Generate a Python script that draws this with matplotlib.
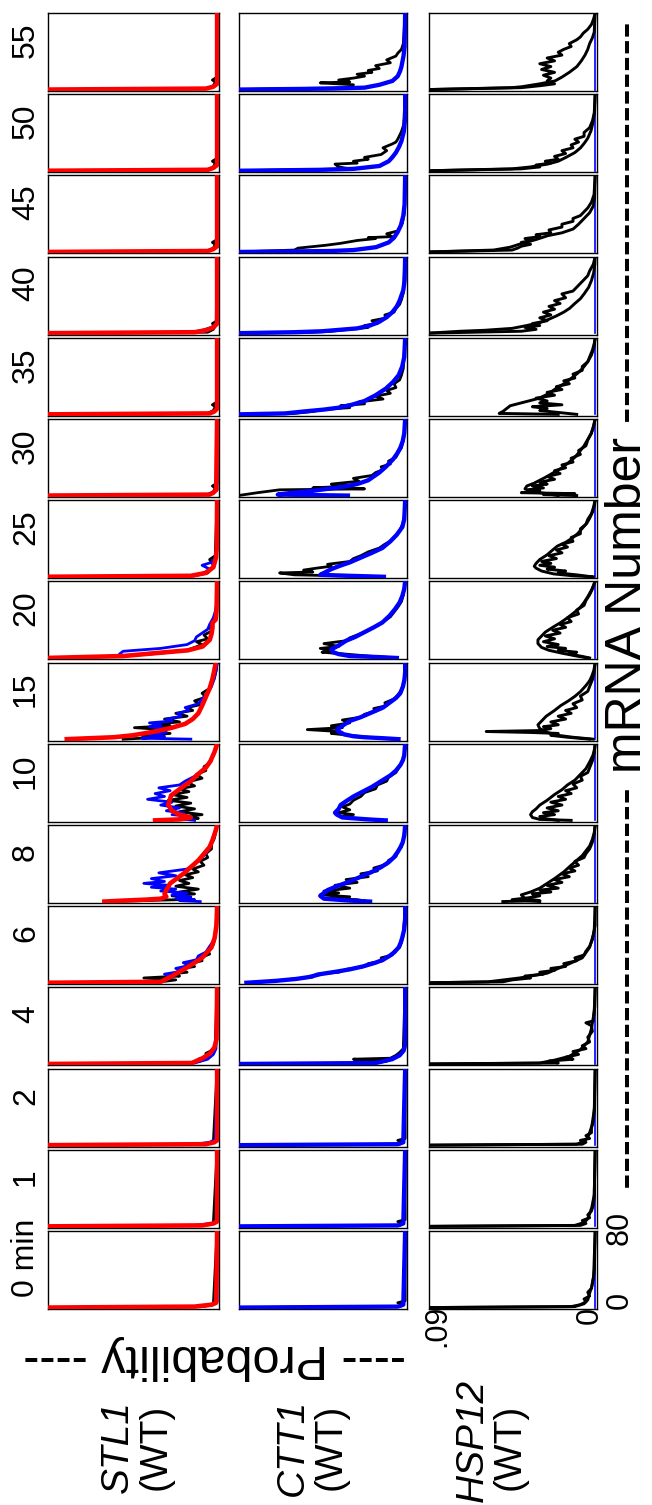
import matplotlib
matplotlib.use('Agg')
import matplotlib.pyplot as plt
import numpy as np

plt.rcParams['font.family'] = ['Liberation Sans', 'DejaVu Sans']

times = ['0 min', '1', '2', '4', '6', '8', '10', '15', '20', '25', '30', '35', '40', '45', '50', '55']
genes = ['STL1', 'CTT1', 'HSP12']

# every curve is a list of (mRNA number, probability), one list per time point
# (probabilities above .09 run off the left of the panel)

stl1_red = [
    [(0, .9), (1, .012), (3, .003), (5, .0005), (80, 0)],
    [(0, .9), (1, .008), (3, .002), (5, 0), (80, 0)],
    [(0, .9), (1, .006), (3, .0015), (5, 0), (80, 0)],
    [(0, .6), (1, .0135), (6, .0077), (11, .0039), (17, .0015), (26, .0003), (80, 0)],
    [(0, .5), (1, .03), (7, .024), (16, .016), (26, .008), (37, .003), (47, .0013), (61, .0003), (80, 0)],
    [(0, .06), (1, .05), (2, .038), (3, .03), (5, .027), (8, .028), (12, .027), (19, .025), (29, .018),
     (36, .014), (43, .01), (50, .007), (57, .004), (64, .0025), (71, .0013), (76, .0005), (80, 0)],
    [(0, .033), (1, .02), (3, .014), (6, .02), (10, .024), (16, .026), (26, .0245), (34, .019), (41, .014),
     (48, .0103), (55, .006), (62, .0035), (72, .0013), (78, .0003), (80, 0)],
    [(0, .08), (2, .055), (4, .045), (8, .033), (12, .024), (16, .017), (21, .013), (27, .010), (35, .008),
     (44, .006), (53, .004), (62, .0026), (70, .0017), (77, .001), (80, .0007)],
    [(0, .15), (2, .05), (5, .033), (8, .0155), (12, .0077), (19, .0039), (25, .003), (31, .0025),
     (37, .0024), (40, .0008), (50, .0003), (80, 0)],
    [(0, .5), (1, .014), (4, .006), (10, .002), (20, .0006), (30, .0002), (80, 0)],
    [(0, .9), (1, .004), (3, .002), (6, .0005), (80, 0)],
    [(0, .9), (1, .004), (3, .0015), (6, 0), (80, 0)],
    [(0, .9), (1, .012), (3, .006), (6, .002), (10, 0), (80, 0)],
    [(0, .9), (1, .005), (3, .002), (6, 0), (80, 0)],
    [(0, .9), (1, .005), (3, .002), (6, 0), (80, 0)],
    [(0, .9), (1, .006), (3, .002), (6, 0), (80, 0)],
]

stl1_blue = [
    [(0, .9), (1, .01), (3, .002), (6, 0), (80, 0)],
    [(0, .9), (1, .012), (3, .003), (6, 0), (80, 0)],
    [(0, .9), (1, .012), (3, .004), (6, .001), (80, 0)],
    [(0, .6), (1, .012), (5, .005), (10, .002), (16, .0006), (80, 0)],
    [(0, .5), (1, .03), (3, .028), (6, .024), (9, .028), (12, .019), (15, .022), (18, .015), (21, .018),
     (24, .011), (28, .010), (32, .006), (38, .004), (45, .0015), (55, .0005), (80, 0)],
    [(0, .009), (1, .02), (2, .012), (3, .022), (5, .014), (7, .024), (9, .016), (11, .03), (13, .022),
     (15, .035), (17, .026), (19, .039), (21, .028), (24, .035), (27, .022), (30, .031), (34, .016),
     (38, .013), (43, .01), (50, .006), (57, .004), (65, .002), (72, .001), (80, 0)],
    [(0, .012), (2, .02), (4, .014), (6, .024), (8, .018), (10, .027), (13, .02), (16, .03), (19, .024),
     (22, .037), (25, .028), (28, .033), (31, .025), (34, .031), (37, .02), (41, .017), (46, .012),
     (52, .008), (58, .005), (65, .003), (72, .0012), (80, 0)],
    [(0, .014), (1, .04), (3, .028), (5, .036), (7, .027), (9, .033), (11, .026), (13, .036), (15, .03),
     (17, .036), (19, .024), (21, .027), (24, .019), (27, .021), (30, .015), (33, .017), (37, .01),
     (42, .008), (48, .005), (55, .003), (63, .0015), (72, .0005), (80, 0)],
    [(0, .15), (2, .05), (4, .052), (7, .05), (10, .03), (14, .016), (18, .012), (22, .011), (26, .008),
     (30, .005), (35, .004), (42, .002), (50, .0008), (60, 0), (80, 0)],
    [(0, .5), (1, .014), (4, .007), (8, .004), (12, .008), (15, .003), (20, .001), (30, 0), (80, 0)],
    [(0, .9), (1, .005), (3, .002), (6, 0), (80, 0)],
    [(0, .9), (1, .005), (3, .002), (6, 0), (80, 0)],
    [(0, .9), (1, .013), (3, .008), (6, .003), (10, .0005), (80, 0)],
    [(0, .9), (1, .006), (3, .002), (6, 0), (80, 0)],
    [(0, .9), (1, .006), (3, .002), (6, 0), (80, 0)],
    [(0, .9), (1, .006), (3, .002), (6, 0), (80, 0)],
]

stl1_black = [
    [(0, .9), (1, .008), (3, .002), (80, 0)],
    [(0, .9), (1, .008), (3, .002), (80, 0)],
    [(0, .9), (1, .008), (3, .002), (80, 0)],
    [(0, .6), (1, .014), (3, .009), (5, .01), (8, .005), (11, .006), (15, .002), (20, .001), (80, 0)],
    [(0, .5), (1, .03), (3, .022), (5, .039), (7, .02), (9, .025), (11, .016), (14, .021), (17, .012),
     (20, .015), (23, .008), (26, .009), (30, .004), (34, .005), (40, .002), (48, .001), (80, 0)],
    [(0, .06), (2, .02), (4, .014), (6, .024), (8, .012), (10, .02), (13, .01), (16, .022), (19, .015),
     (22, .02), (25, .013), (28, .017), (31, .01), (34, .013), (38, .007), (42, .009), (46, .005),
     (50, .006), (55, .003), (60, .003), (66, .0015), (72, .0008), (80, 0)],
    [(0, .03), (2, .01), (4, .016), (6, .008), (9, .02), (12, .012), (15, .022), (18, .014), (21, .026),
     (24, .016), (27, .024), (30, .015), (33, .02), (36, .012), (40, .016), (44, .008), (48, .011),
     (52, .006), (56, .007), (60, .004), (65, .003), (70, .0015), (75, .0005), (80, 0)],
    [(0, .05), (2, .03), (4, .04), (6, .025), (8, .035), (10, .028), (12, .044), (14, .025), (16, .032),
     (18, .02), (21, .028), (24, .016), (27, .022), (30, .013), (33, .016), (36, .009), (40, .012),
     (44, .006), (48, .008), (53, .004), (58, .003), (64, .0015), (72, .0005), (80, 0)],
    [(0, .15), (2, .05), (5, .03), (8, .016), (11, .012), (14, .008), (17, .011), (20, .005), (24, .007),
     (28, .003), (33, .004), (40, .0015), (50, .0005), (80, 0)],
    [(0, .5), (1, .012), (4, .005), (8, .003), (12, .002), (18, .004), (22, .001), (80, 0)],
    [(0, .9), (1, .005), (4, .002), (8, .001), (10, .0025), (13, 0), (80, 0)],
    [(0, .9), (1, .005), (4, .002), (8, .001), (10, .0025), (13, 0), (80, 0)],
    [(0, .9), (1, .005), (4, .002), (8, .001), (10, .0025), (13, 0), (80, 0)],
    [(0, .9), (1, .005), (4, .002), (8, .001), (10, .0025), (13, 0), (80, 0)],
    [(0, .9), (1, .005), (4, .002), (8, .001), (10, .0025), (13, 0), (80, 0)],
    [(0, .9), (1, .005), (4, .002), (8, .001), (10, .0025), (13, 0), (80, 0)],
]

ctt1_blue = [
    [(0, .9), (1, .004), (3, .001), (80, 0)],
    [(0, .9), (1, .004), (3, .001), (80, 0)],
    [(0, .9), (1, .004), (3, .001), (80, 0)],
    [(0, .6), (1, .016), (5, .007), (9, .003), (14, .0008), (20, 0), (80, 0)],
    [(0, .086), (2, .07), (4, .059), (6, .052), (9, .046), (12, .036), (14, .03), (17, .023), (21, .016),
     (24, .012), (28, .0085), (32, .0058), (37, .0035), (42, .0024), (47, .0016), (55, .0006), (65, 0), (80, 0)],
    [(0, .019), (1, .03), (3, .044), (6, .046), (9, .044), (12, .042), (16, .037), (21, .03), (26, .024),
     (31, .018), (36, .013), (41, .009), (46, .0062), (52, .004), (57, .0025), (62, .0013), (70, .0004), (80, 0)],
    [(0, .0105), (1, .02), (3, .034), (6, .037), (8, .038), (12, .036), (16, .035), (20, .032), (25, .028),
     (30, .023), (35, .018), (41, .013), (47, .008), (52, .005), (58, .0025), (63, .0012), (68, .0005), (80, 0)],
    [(0, .0036), (1, .012), (2, .022), (3, .028), (5, .033), (8, .036), (10, .037), (14, .034), (19, .030),
     (23, .024), (28, .018), (33, .012), (38, .0085), (43, .005), (48, .0026), (55, .0012), (62, .0004),
     (70, 0), (80, 0)],
    [(0, .0045), (1, .015), (2, .03), (4, .036), (6, .039), (9, .040), (13, .036), (18, .032), (22, .027),
     (27, .022), (32, .017), (37, .0124), (44, .0085), (51, .0055), (58, .003), (65, .0015), (72, .0005), (80, 0)],
    [(0, .0115), (1, .03), (2, .046), (4, .044), (8, .040), (11, .036), (15, .030), (20, .024), (25, .018),
     (30, .0124), (37, .008), (44, .0045), (52, .0015), (60, .0005), (80, 0)],
    [(0, .031), (1, .069), (3, .061), (5, .05), (7, .042), (9, .034), (12, .026), (16, .02), (20, .017),
     (24, .014), (30, .0105), (38, .0065), (44, .0043), (50, .0026), (57, .0013), (65, .0005), (80, 0)],
    [(0, .15), (1, .065), (3, .055), (5, .044), (7, .036), (10, .029), (14, .022), (20, .016), (27, .0104),
     (34, .0065), (41, .0035), (50, .0016), (60, .0005), (80, 0)],
    [(0, .3), (1, .06), (2, .045), (5, .026), (8, .019), (12, .0139), (17, .0098), (22, .0069), (28, .0045),
     (34, .003), (45, .001), (55, .0003), (80, 0)],
    [(0, .5), (1, .04), (2, .028), (5, .0158), (10, .0089), (15, .006), (21, .004), (28, .0023), (38, .001),
     (50, .0003), (80, 0)],
    [(0, .5), (1, .045), (2, .028), (5, .0139), (10, .0089), (14, .007), (19, .005), (25, .0033), (31, .002),
     (41, .0007), (55, 0), (80, 0)],
    [(0, .5), (1, .04), (2, .022), (5, .0139), (9, .0069), (14, .004), (19, .0028), (24, .002), (35, .0009),
     (45, .0003), (80, 0)],
]

ctt1_black = [
    [(0, .9), (1, .003), (3, .001), (5, .004), (7, 0), (80, 0)],
    [(0, .9), (1, .003), (3, .001), (5, .004), (7, 0), (80, 0)],
    [(0, .9), (1, .003), (3, .001), (5, .004), (7, 0), (80, 0)],
    [(0, .6), (1, .016), (3, .01), (5, .028), (6, .008), (9, .005), (12, .003), (16, .001), (80, 0)],
    [(0, .086), (2, .07), (4, .06), (6, .05), (9, .048), (11, .036), (14, .032), (17, .022), (20, .02),
     (23, .012), (26, .013), (29, .007), (33, .006), (37, .003), (42, .002), (50, .001), (80, 0)],
    [(0, .02), (2, .026), (3, .04), (5, .03), (7, .046), (9, .036), (11, .044), (14, .03), (17, .038),
     (20, .026), (23, .032), (26, .02), (29, .024), (32, .015), (35, .017), (39, .01), (43, .009),
     (47, .005), (52, .004), (57, .002), (64, .001), (80, 0)],
    [(0, .012), (2, .026), (4, .034), (6, .028), (8, .036), (11, .03), (14, .034), (17, .03), (21, .028),
     (25, .024), (29, .022), (33, .016), (37, .015), (41, .01), (45, .009), (50, .005), (55, .0035),
     (60, .002), (68, .0005), (80, 0)],
    [(0, .005), (2, .02), (4, .03), (6, .04), (8, .036), (10, .053), (12, .034), (14, .04), (17, .03),
     (20, .034), (23, .024), (26, .022), (29, .016), (32, .017), (35, .01), (38, .011), (42, .006),
     (46, .004), (50, .0025), (56, .0012), (62, .0005), (80, 0)],
    [(0, .005), (2, .02), (4, .032), (6, .045), (8, .04), (10, .046), (12, .036), (15, .044), (18, .032),
     (21, .03), (24, .026), (27, .022), (31, .018), (35, .014), (39, .011), (43, .008), (48, .006),
     (53, .004), (59, .002), (66, .001), (80, 0)],
    [(0, .012), (1, .035), (2, .06), (4, .068), (5, .05), (7, .055), (9, .048), (11, .04), (13, .042),
     (16, .03), (19, .028), (22, .024), (26, .02), (30, .014), (34, .011), (37, .008), (41, .006),
     (45, .004), (50, .0025), (56, .0012), (64, .0004), (80, 0)],
    [(0, .12), (3, .08), (6, .068), (7, .022), (8, .05), (10, .03), (12, .04), (15, .025), (18, .028),
     (21, .018), (24, .016), (27, .012), (30, .013), (33, .008), (36, .009), (40, .005), (44, .004),
     (50, .002), (58, .001), (66, .0003), (80, 0)],
    [(0, .15), (1, .06), (3, .05), (5, .045), (7, .03), (9, .035), (11, .022), (13, .025), (16, .012),
     (19, .016), (22, .008), (25, .01), (28, .005), (32, .006), (36, .003), (41, .002), (48, .001), (80, 0)],
    [(0, .3), (1, .05), (2, .04), (4, .03), (6, .02), (8, .022), (10, .015), (13, .018), (16, .01),
     (19, .011), (22, .006), (26, .005), (30, .003), (35, .002), (42, .001), (80, 0)],
    [(0, .5), (2, .06), (4, .058), (7, .043), (9, .035), (12, .026), (14, .016), (15, .02), (16, .007),
     (19, .01), (22, .004), (25, .003), (30, .0015), (40, .0005), (80, 0)],
    [(0, .5), (2, .03), (4, .036), (7, .038), (8, .026), (10, .028), (12, .02), (14, .022), (17, .013),
     (21, .01), (24, .012), (28, .007), (30, .005), (33, .004), (37, .003), (41, .002), (48, .0008), (80, 0)],
    [(0, .5), (2, .03), (5, .028), (7, .046), (8, .03), (10, .036), (12, .028), (14, .022), (16, .026),
     (18, .018), (20, .02), (22, .014), (25, .016), (28, .008), (31, .01), (35, .005), (38, .004),
     (42, .002), (48, .001), (80, 0)],
]

hsp12_black_a = [
    [(0, .6), (1, .011), (4, .006), (8, .004), (15, .003), (22, .0018), (30, .001), (40, .0004), (80, 0)],
    [(0, .6), (1, .011), (4, .006), (8, .004), (13, .003), (20, .0018), (28, .001), (33, .0005), (80, 0)],
    [(0, .6), (1, .01), (4, .006), (8, .004), (13, .003), (20, .0018), (30, .001), (40, .0003), (80, 0)],
    [(0, .5), (1, .03), (4, .022), (8, .014), (15, .008), (23, .004), (37, .002), (51, .0008), (60, .0002), (80, 0)],
    [(0, .3), (1, .058), (5, .041), (10, .026), (15, .02), (19, .015), (26, .007), (37, .003), (50, .001),
     (60, 0), (80, 0)],
    [(0, .05), (1, .03), (3, .038), (7, .04), (10, .035), (14, .03), (19, .026), (24, .022), (31, .017),
     (38, .013), (43, .01), (48, .007), (53, .005), (58, .003), (65, .0015), (72, .0005), (80, 0)],
    [(0, .013), (1, .03), (3, .034), (6, .035), (9, .034), (12, .032), (16, .03), (21, .026), (27, .022),
     (32, .018), (37, .015), (42, .011), (48, .008), (54, .005), (61, .003), (68, .0012), (75, .0003), (80, 0)],
    [(0, .001), (2, .012), (4, .02), (7, .026), (11, .03), (15, .031), (19, .029), (24, .0265), (30, .022),
     (35, .0187), (40, .0145), (45, .0108), (50, .0078), (56, .005), (61, .003), (66, .0018), (72, .0007), (80, 0)],
    [(0, .004), (2, .01), (5, .018), (8, .025), (11, .029), (15, .031), (19, .031), (23, .029), (27, .027),
     (32, .023), (37, .0187), (42, .015), (48, .011), (53, .008), (58, .006), (64, .004), (71, .002),
     (76, .0008), (80, 0)],
    [(0, .001), (1, .012), (3, .0225), (6, .029), (9, .032), (11, .033), (14, .032), (18, .030), (23, .026),
     (28, .023), (32, .0205), (36, .016), (40, .0127), (45, .0095), (51, .0068), (56, .0045), (61, .003),
     (68, .0013), (75, .0003), (80, 0)],
    [(0, .02), (2, .026), (4, .034), (7, .038), (10, .037), (13, .033), (16, .03), (20, .026), (24, .0225),
     (29, .018), (34, .0147), (40, .011), (45, .0088), (52, .006), (59, .0039), (65, .0022), (72, .0008), (80, 0)],
    [(0, .02), (1, .052), (3, .05), (6, .048), (9, .046), (13, .038), (17, .03), (22, .025), (28, .0205),
     (33, .016), (38, .0127), (43, .0095), (48, .0068), (55, .004), (62, .002), (70, .0006), (80, 0)],
    [(0, .3), (2, .073), (3, .06), (5, .045), (8, .037), (11, .03), (14, .0257), (18, .021), (22, .017),
     (26, .0138), (31, .011), (36, .008), (41, .006), (48, .0035), (55, .002), (63, .0008), (72, .0002), (80, 0)],
    [(0, .3), (2, .055), (5, .046), (9, .0396), (13, .032), (17, .0257), (20, .018), (24, .0119), (29, .009),
     (35, .006), (41, .003), (48, .001), (56, .0003), (80, 0)],
    [(0, .3), (2, .045), (4, .035), (7, .0257), (10, .02), (14, .0158), (19, .011), (24, .0079), (29, .0058),
     (34, .004), (42, .0022), (52, .001), (62, .0003), (80, 0)],
    [(0, .3), (2, .045), (3, .0396), (6, .03), (9, .0218), (13, .018), (18, .014), (24, .0099), (30, .0075),
     (36, .0055), (42, .004), (48, .003), (54, .0015), (60, .0005), (80, 0)],
]

hsp12_black_b = [
    [(0, .6), (1, .013), (3, .008), (6, .005), (9, .006), (12, .003), (16, .004), (20, .002), (26, .0015),
     (33, .0008), (80, 0)],
    [(0, .6), (1, .008), (3, .005), (6, .007), (9, .003), (12, .004), (16, .002), (22, .001), (30, .0005), (80, 0)],
    [(0, .6), (1, .007), (3, .005), (5, .008), (7, .003), (10, .005), (13, .002), (18, .002), (25, .001),
     (35, .0005), (80, 0)],
    [(0, .5), (1, .02), (3, .025), (5, .012), (7, .016), (10, .009), (13, .012), (16, .005), (19, .007),
     (23, .003), (28, .004), (34, .0015), (40, .002), (43, .005), (45, .001), (55, .0005), (80, 0)],
    [(0, .3), (1, .05), (3, .045), (5, .035), (7, .038), (9, .028), (11, .03), (13, .022), (15, .024),
     (17, .016), (20, .017), (23, .01), (26, .011), (29, .006), (33, .005), (38, .003), (45, .0015),
     (55, .0005), (80, 0)],
    [(0, .03), (2, .045), (4, .036), (6, .03), (8, .034), (10, .024), (12, .03), (14, .02), (17, .026),
     (20, .018), (23, .022), (26, .014), (29, .018), (32, .011), (35, .014), (38, .009), (42, .011),
     (46, .006), (50, .005), (55, .003), (62, .0015), (70, .0005), (80, 0)],
    [(0, .02), (2, .028), (4, .03), (6, .022), (8, .028), (10, .02), (13, .026), (16, .018), (19, .024),
     (22, .016), (25, .02), (28, .013), (31, .016), (34, .01), (38, .012), (42, .007), (46, .008),
     (50, .004), (55, .003), (62, .0015), (70, .0005), (80, 0)],
    [(0, .003), (2, .015), (4, .024), (6, .02), (7, .035), (8, .059), (9, .03), (11, .024), (13, .028),
     (15, .02), (18, .024), (21, .016), (24, .02), (27, .013), (30, .016), (33, .01), (37, .012),
     (41, .007), (45, .008), (50, .004), (55, .003), (62, .0015), (70, .0005), (80, 0)],
    [(0, .003), (2, .008), (4, .014), (6, .01), (8, .02), (10, .016), (12, .026), (14, .02), (17, .028),
     (20, .022), (23, .027), (26, .019), (29, .023), (32, .016), (35, .019), (38, .013), (42, .015),
     (46, .009), (50, .01), (55, .006), (60, .005), (66, .003), (72, .0015), (78, .0005), (80, 0)],
    [(0, .002), (2, .01), (4, .02), (6, .016), (8, .026), (10, .022), (12, .03), (14, .024), (16, .029),
     (19, .021), (22, .025), (25, .018), (28, .021), (31, .015), (34, .018), (37, .012), (41, .013),
     (45, .008), (50, .008), (55, .005), (60, .004), (66, .002), (72, .001), (80, 0)],
    [(0, .01), (1, .028), (2, .011), (3, .04), (5, .03), (6, .036), (8, .028), (10, .034), (12, .026),
     (14, .03), (17, .022), (20, .026), (23, .019), (26, .022), (29, .016), (32, .018), (35, .012),
     (39, .013), (43, .008), (47, .009), (52, .005), (58, .004), (65, .002), (72, .001), (80, 0)],
    [(0, .01), (2, .02), (4, .03), (6, .026), (8, .034), (10, .018), (12, .03), (14, .026), (17, .032),
     (20, .022), (23, .026), (26, .018), (29, .021), (32, .014), (35, .017), (38, .011), (42, .012),
     (46, .007), (50, .007), (55, .004), (60, .003), (67, .0015), (74, .0005), (80, 0)],
    [(0, .3), (2, .04), (4, .032), (6, .038), (8, .03), (10, .034), (13, .026), (16, .03), (19, .024),
     (22, .028), (25, .022), (28, .025), (31, .019), (34, .022), (37, .016), (41, .018), (44, .012),
     (48, .01), (52, .008), (56, .006), (60, .004), (65, .003), (72, .001), (80, 0)],
    [(0, .3), (2, .045), (4, .042), (6, .04), (8, .035), (10, .04), (12, .034), (14, .038), (16, .03),
     (18, .032), (20, .024), (23, .025), (26, .018), (29, .018), (32, .012), (35, .012), (38, .008),
     (42, .006), (46, .004), (52, .002), (60, .0006), (80, 0)],
    [(0, .3), (2, .04), (4, .03), (6, .032), (8, .024), (10, .027), (12, .02), (15, .022), (18, .016),
     (21, .018), (24, .012), (27, .013), (30, .009), (33, .011), (36, .006), (40, .006), (45, .003),
     (52, .0015), (60, .0005), (80, 0)],
    [(0, .3), (2, .04), (4, .03), (6, .022), (9, .026), (12, .024), (15, .028), (18, .022), (21, .029),
     (24, .024), (27, .03), (30, .022), (33, .026), (36, .018), (39, .02), (42, .017), (45, .013),
     (48, .014), (52, .01), (55, .008), (59, .0064), (63, .004), (68, .002), (74, .0008), (80, 0)],
]

# the model line for HSP12 stays at zero
hsp12_blue = [(0, 0), (80, 0)]

W, H = 652, 1505
P_MAX = 0.09
fig = plt.figure(figsize=(W / 100, H / 100), dpi=100)

col_left = [48, 239, 429]
col_w = [171, 168, 168]
row_top0 = 13
row_step = 81.2
row_h = 78


def px_axes(x, y, w, h):
    return fig.add_axes([x / W, 1 - (y + h) / H, w / W, h / H])


def draw(ax, pts, color, lw, z):
    n = np.array([p[0] for p in pts], dtype=float)
    prob = np.array([p[1] for p in pts], dtype=float)
    # values past the left edge are drawn at the edge, like the clipped original
    prob = np.minimum(prob, P_MAX + 0.0005)
    ax.plot(prob, n, color=color, lw=lw, zorder=z, solid_joinstyle='round')


for i, t in enumerate(times):
    top = row_top0 + (len(times) - 1 - i) * row_step
    series = [
        [(stl1_black[i], 'black', 2.0), (stl1_blue[i], '#0000ff', 2.0), (stl1_red[i], '#ff0000', 3.3)],
        [(ctt1_black[i], 'black', 2.0), (ctt1_blue[i], '#0000ff', 3.1)],
        [(hsp12_blue, '#0000ff', 1.2), (hsp12_black_a[i], 'black', 2.1), (hsp12_black_b[i], 'black', 2.1)],
    ]
    for c in range(3):
        ax = px_axes(col_left[c], top, col_w[c], row_h)
        for z, (pts, color, lw) in enumerate(series[c]):
            draw(ax, pts, color, lw, 2 + z)
        # probability .09 on the left, 0 on the right
        ax.set_xlim(P_MAX, -0.001)
        ax.set_ylim(-1.5, 80)
        ax.set_xticks([])
        ax.set_yticks([])
        for sp in ax.spines.values():
            sp.set_linewidth(1.0)
    fig.text(26 / W, 1 - (top + row_h / 2 - 12) / H, t, rotation=90,
             ha='center', va='center', fontsize=23)


def ftext(x, y, s, **kw):
    fig.text(x / W, 1 - y / H, s, **kw)


# tick labels of the bottom right panel
ftext(437, 1326, '.09', rotation=90, ha='center', va='center', fontsize=22)
ftext(590, 1315, '0', rotation=90, ha='center', va='center', fontsize=22)
ftext(620, 1300, '0', rotation=90, ha='center', va='center', fontsize=22)
ftext(620, 1228, '80', rotation=90, ha='center', va='center', fontsize=22)

# axis titles
ftext(641, 605, '-' * 24 + ' mRNA Number ' + '-' * 24, rotation=90, rotation_mode='anchor',
      ha='center', va='baseline', fontsize=36)
ftext(215, 1345, '---- Probability ----', rotation=180, rotation_mode='anchor',
      ha='center', va='baseline', fontsize=35)

# gene names
gene_x = [128, 303, 483]
wt_x = [166, 341, 520]
gene_y = [1447, 1447, 1440]
for g, gx, wx, gy in zip(genes, gene_x, wt_x, gene_y):
    ftext(gx, gy, g, rotation=90, rotation_mode='anchor', ha='center', va='baseline',
          fontsize=28, style='italic')
    ftext(wx, 1447, '(WT)', rotation=90, rotation_mode='anchor', ha='center', va='baseline',
          fontsize=28)

fig.savefig('out.png', dpi=100)
